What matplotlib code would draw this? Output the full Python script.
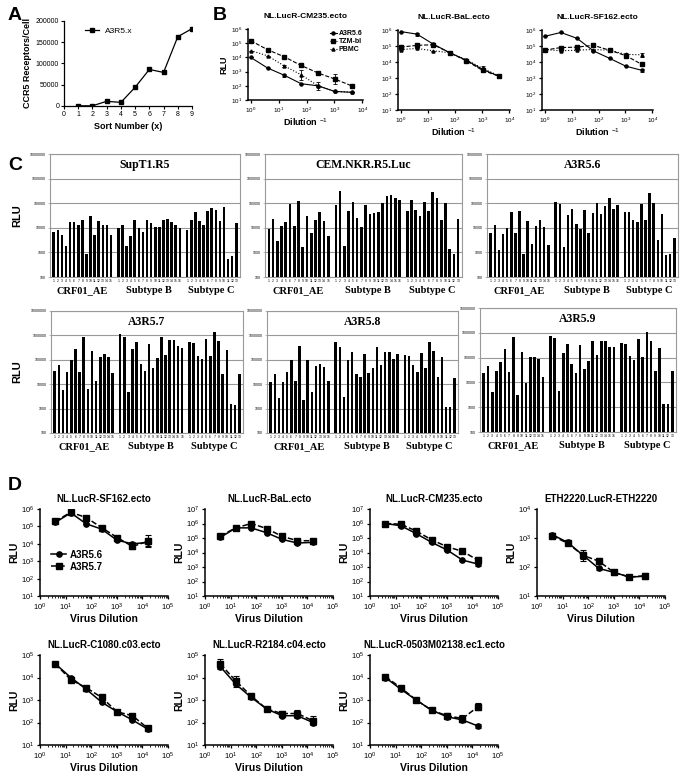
"""Multi-panel figure: CCR5 sorting, reporter virus titrations and isolate screens."""

import numpy as np
import matplotlib
matplotlib.use("Agg")
import matplotlib.pyplot as plt
import matplotlib.transforms as mtransforms
from matplotlib.ticker import LogLocator, NullFormatter, FixedLocator, FuncFormatter

W, H = 683, 780

# ---------------- data ----------------
# A: CCR5 receptors per cell by sort number
sort_num = [1, 2, 3, 4, 5, 6, 7, 8, 9]
ccr5_cell = [500, 500, 11000, 8500, 44000, 86000, 79000, 163000, 182000]

# B: titration on three cell types (RLU), errors as log10 half-widths
b_dil = [1, 4, 16, 64, 256, 1024, 4096]
b_names = ["A3R5.6", "TZM-bl", "PBMC"]
b_titles = ["NL.LucR-CM235.ecto", "NL.LucR-BaL.ecto", "NL.LucR-SF162.ecto"]
b_cm235 = [[1e4, 1.8e3, 5.5e2, 1.4e2, 1e2, 4e1, 3.5e1],
           [1.5e5, 3.5e4, 1.1e4, 2.7e3, 8e2, 3e2, 1e2],
           [3e4, 1.3e4, 2.5e3, 6e2, 1e2, 4e1, 3.5e1]]
b_cm235_err = [[0, 0, 0.1, 0, 0, 0, 0],
               [0, 0, 0, 0, 0.05, 0.35, 0],
               [0, 0, 0.1, 0.35, 0.3, 0, 0]]
b_bal = [[8e5, 5.5e5, 1.3e5, 3.8e4, 1.3e4, 3.5e3, 1.3e3],
         [8.5e4, 1.1e5, 1.2e5, 3.8e4, 1.2e4, 3e3, 1.3e3],
         [6e4, 7e4, 5e4, 3.8e4, 1.4e4, 4e3, 1.4e3]]
b_bal_err = [[0, 0.1, 0.05, 0, 0.05, 0.2, 0.12],
             [0, 0, 0, 0, 0, 0, 0],
             [0, 0, 0, 0, 0, 0, 0]]
b_sf162 = [[4e5, 7e5, 3e5, 5e4, 1.7e4, 5.5e3, 3e3],
           [5.5e4, 8e4, 8.5e4, 1.1e5, 5.5e4, 2.5e4, 7e3],
           [6e4, 5e4, 5.5e4, 6e4, 5.5e4, 3e4, 2.8e4]]
b_sf162_err = [[0, 0, 0, 0, 0, 0, 0.08],
               [0, 0, 0, 0, 0, 0.05, 0],
               [0, 0, 0, 0, 0, 0.07, 0.12]]

# C: isolate panels (RLU), per subtype group
c_groups = ["CRF01_AE", "Subtype B", "Subtype C"]
c_supt1 = [[6500, 8000, 5000, 1800, 17000, 18000, 13000, 20000, 900, 30000, 5300, 19000, 13000, 13000, 5000],
           [9500, 13000, 1800, 4500, 20000, 9500, 6500, 20000, 16000, 11000, 10500, 20000, 23000, 18000, 13000, 10000],
           [8000, 20000, 43000, 19000, 13000, 47000, 65000, 53000, 19000, 70000, 530, 720, 16000]]
c_cem = [[9000, 22000, 3000, 12000, 17000, 97000, 12000, 120000, 1600, 31000, 6000, 21000, 43000, 19000, 4800],
         [85000, 320000, 1800, 46000, 115000, 25000, 11000, 88000, 38000, 40000, 43000, 100000, 200000, 210000, 165000, 135000],
         [47000, 130000, 55000, 30000, 110000, 48000, 280000, 160000, 20000, 105000, 1350, 900, 22000]]
c_a3r56 = [[6200, 13500, 1300, 5800, 9500, 45000, 6200, 46000, 850, 19000, 2200, 11500, 21000, 11000, 2000],
           [110000, 90000, 1700, 33000, 60000, 14500, 9000, 52000, 6200, 39000, 100000, 38000, 80000, 160000, 60000, 88000],
           [43000, 43000, 20000, 18000, 90000, 20000, 250000, 100000, 3200, 35000, 750, 850, 3700]]
c_a3r57 = [[34000, 63000, 5700, 33000, 95000, 270000, 33000, 880000, 6500, 220000, 13000, 130000, 170000, 125000, 30000],
           [1100000, 850000, 4700, 290000, 550000, 65000, 35000, 430000, 44000, 120000, 900000, 160000, 620000, 670000, 370000, 310000],
           [550000, 470000, 145000, 105000, 740000, 140000, 1400000, 610000, 25000, 260000, 1500, 1400, 25000]]
c_a3r58 = [[12000, 25000, 2800, 12000, 32000, 100000, 13000, 380000, 2200, 95000, 5000, 55000, 65000, 49000, 14000],
           [530000, 350000, 3100, 100000, 200000, 27000, 19000, 165000, 29000, 46000, 350000, 61000, 210000, 200000, 110000, 175000],
           [155000, 140000, 60000, 33000, 185000, 44000, 530000, 220000, 19000, 130000, 1150, 1200, 18000]]
c_a3r59 = [[25000, 46000, 4000, 28000, 65000, 230000, 26000, 700000, 3100, 175000, 9500, 105000, 110000, 85000, 16000],
           [730000, 620000, 4300, 150000, 360000, 54000, 24000, 330000, 35000, 70000, 450000, 130000, 450000, 450000, 280000, 270000],
           [400000, 340000, 120000, 80000, 550000, 105000, 1100000, 450000, 28000, 240000, 1400, 1400, 30000]]

# D: A3R5.6 vs A3R5.7 titrations
d_dil = [4, 16, 64, 256, 1024, 4096, 16384]
d_names = ["A3R5.6", "A3R5.7"]
d_titles = ["NL.LucR-SF162.ecto", "NL.LucR-BaL.ecto", "NL.LucR-CM235.ecto", "ETH2220.LucR-ETH2220",
            "NL.LucR-C1080.c03.ecto", "NL.LucR-R2184.c04.ecto", "NL.LucR-0503M02138.ec1.ecto"]
d_sf162 = [[1.7e5, 6e5, 1.4e5, 7e4, 1.6e4, 1e4, 1.2e4], [2e5, 6.5e5, 3.2e5, 8.5e4, 2.3e4, 7e3, 1.4e4]]
d_bal = [[1.1e5, 5e5, 5e5, 2.3e5, 8e4, 4.5e4, 5e4], [1.4e5, 5e5, 1e6, 4.5e5, 1.3e5, 6.5e4, 6.5e4]]
d_cm235 = [[1e6, 7e5, 2e5, 5e4, 1.5e4, 3e3, 1.6e3], [1e6, 9e5, 3e5, 7.5e4, 2.5e4, 1.2e4, 3e3]]
d_eth = [[1.3e3, 7e2, 2.5e2, 9e1, 6.5e1, 4.5e1, 4.8e1], [1.2e3, 6.5e2, 2.5e2, 1.6e2, 6.5e1, 4.5e1, 5e1]]
d_c1080 = [[4e4, 1e4, 3e3, 8e2, 3e2, 1.3e2, 5e1], [4e4, 8e3, 3.5e3, 1.3e3, 3e2, 2e2, 5.5e1]]
d_r2184 = [[3e4, 5e3, 1.3e3, 4e2, 2e2, 2e2, 1e2], [4e4, 7e3, 1.5e3, 4e2, 2.5e2, 2.5e2, 1.2e2]]
d_0503 = [[1e4, 3e3, 1e3, 3.5e2, 1.8e2, 1.3e2, 7e1], [1.1e4, 3.5e3, 1e3, 3.5e2, 2e2, 1.5e2, 5e2]]
d_err = [[0.08, 0.05, 0.05, 0.05, 0.1, 0.15, 0.35],
         [0.08, 0.05, 0.1, 0.1, 0.1, 0.1, 0.1],
         [0.05, 0.15, 0.1, 0.12, 0.15, 0.05, 0.2],
         [0.08, 0.05, 0.2, 0.1, 0.1, 0.03, 0.1],
         [0.05, 0.05, 0.05, 0.05, 0.08, 0.08, 0.1],
         [0.2, 0.2, 0.1, 0.05, 0.1, 0.15, 0.2],
         [0.05, 0.08, 0.05, 0.05, 0.1, 0.15, 0.15]]
d_ylims = [(1e1, 1e6), (1e1, 1e7), (1e1, 1e7), (1e1, 1e4), (1e1, 1e5), (1e1, 1e5), (1e1, 1e5)]

# ---------------- style ----------------
plt.rcParams.update({
    "font.family": ["Liberation Sans", "DejaVu Sans"],
    "mathtext.fontset": "custom",
    "mathtext.rm": "Liberation Sans",
    "mathtext.bf": "Liberation Sans:bold",
    "axes.linewidth": 1.1,
    "xtick.direction": "out",
    "ytick.direction": "out",
})
SERIF = ["Liberation Serif", "DejaVu Serif"]


def box(l, t, r, b):
    return [l / W, 1 - b / H, (r - l) / W, (b - t) / H]


def prism_axes(ax, xlim, ylim, tick_fs, minor_x=False):
    ax.set_xscale("log")
    ax.set_yscale("log")
    ax.set_xlim(*xlim)
    ax.set_ylim(*ylim)
    for s in ("top", "right"):
        ax.spines[s].set_visible(False)
    ax.xaxis.set_major_locator(LogLocator(base=10, numticks=12))
    ax.yaxis.set_major_locator(LogLocator(base=10, numticks=12))
    ax.yaxis.set_minor_locator(FixedLocator([]))
    if minor_x:
        ax.xaxis.set_minor_locator(LogLocator(base=10, subs=np.arange(2, 10), numticks=12))
        ax.xaxis.set_minor_formatter(NullFormatter())
        ax.tick_params(axis="x", which="minor", length=1.5, width=0.6)
    else:
        ax.xaxis.set_minor_locator(FixedLocator([]))
    ax.tick_params(which="major", length=2.5, width=0.9, labelsize=tick_fs, pad=1.5)


def log_err(vals, errs):
    v = np.array(vals, dtype=float)
    e = np.array(errs, dtype=float)
    return [v - v / 10 ** e, v * 10 ** e - v]


fig = plt.figure(figsize=(W / 100, H / 100), dpi=100)
fig.patch.set_facecolor("white")

# panel letters
for letter, (px, py) in zip("ABCD", [(8, 20), (213, 20), (8, 170), (8, 490)]):
    fig.text(px / W, 1 - py / H, letter, fontsize=14, fontweight="bold")

# ---------------- A ----------------
ax = fig.add_axes(box(64, 21, 192, 106))
ax.plot(sort_num, ccr5_cell, color="black", marker="s", ms=2.8, lw=0.9, label="A3R5.x")
ax.set_xlim(0, 9)
ax.set_ylim(0, 200000)
ax.set_xticks(range(10))
ax.set_yticks([0, 50000, 100000, 150000, 200000])
for s in ("top", "right"):
    ax.spines[s].set_visible(False)
ax.spines["left"].set_linewidth(0.9)
ax.spines["bottom"].set_linewidth(0.9)
ax.tick_params(length=2, width=0.8, labelsize=5, pad=1.5)
ax.set_xlabel("Sort Number (x)", fontsize=6.5, fontweight="bold", labelpad=3)
ax.set_ylabel("CCR5 Receptors/Cell", fontsize=6.5, fontweight="bold", labelpad=3)
ax.legend(loc="upper left", frameon=False, fontsize=6, handlelength=1.6, borderaxespad=0.3,
          bbox_to_anchor=(0.12, 1.0))

# ---------------- B ----------------
b_boxes = [(248, 29, 363, 100), (398, 30, 510, 110), (542, 30, 653, 110)]
b_sets = [(b_cm235, b_cm235_err), (b_bal, b_bal_err), (b_sf162, b_sf162_err)]
b_styles = [("-", "o"), ("--", "s"), (":", "^")]
for i, (bb, (vals, errs), title) in enumerate(zip(b_boxes, b_sets, b_titles)):
    ax = fig.add_axes(box(*bb))
    prism_axes(ax, (0.8, 1.05e4), (1e1, 1e6), 4.5)
    for name, v, e, (ls, mk) in zip(b_names, vals, errs, b_styles):
        ax.errorbar(b_dil, v, yerr=log_err(v, e), fmt="none", ecolor="black",
                    elinewidth=0.6, capsize=1.5, capthick=0.6)
        ax.plot(b_dil, v, color="black", ls=ls, marker=mk, ms=2.2, lw=0.8, label=name)
    ax.set_title(title, fontsize=6, fontweight="bold", pad=8)
    ax.set_xlabel("Dilution $^{-1}$", fontsize=6.5, fontweight="bold", labelpad=1)
    if i == 0:
        ax.set_ylabel("RLU", fontsize=6.5, fontweight="bold", labelpad=2)
        ax.legend(loc="upper right", frameon=False, handlelength=1.0,
                  handletextpad=0.3, labelspacing=0.15, borderaxespad=0.0,
                  bbox_to_anchor=(1.02, 1.02), prop={"weight": "bold", "size": 5})

# ---------------- C ----------------
c_boxes = [(50, 154, 240, 277), (265, 154, 462, 277), (487, 154, 678, 277),
           (51, 311, 243, 433), (267, 311, 458, 433), (480, 308, 676, 432)]
c_sets = [c_supt1, c_cem, c_a3r56, c_a3r57, c_a3r58, c_a3r59]
c_titles = ["SupT1.R5", "CEM.NKR.R5.Luc", "A3R5.6", "A3R5.7", "A3R5.8", "A3R5.9"]
for i, (bb, groups, title) in enumerate(zip(c_boxes, c_sets, c_titles)):
    ax = fig.add_axes(box(*bb))
    ax.set_yscale("log")
    trans = mtransforms.blended_transform_factory(ax.transData, ax.transAxes)
    pos = 0.0
    tick_x, tick_lab = [], []
    for gname, vals in zip(c_groups, groups):
        xs = pos + np.arange(len(vals))
        ax.bar(xs, vals, width=0.62, color="black", zorder=3)
        tick_x.extend(xs)
        tick_lab.extend(str(k + 1) for k in range(len(vals)))
        ax.text(xs.mean(), -0.11, gname, transform=trans, ha="center", va="center",
                fontsize=7.5, fontweight="bold", family=SERIF)
        pos = xs[-1] + 1.8
    ax.set_xlim(-0.9, pos - 1.8 + 0.9)
    ax.set_ylim(1e2, 1e7)
    ax.set_xticks(tick_x)
    ax.set_xticklabels(tick_lab, fontsize=2.4)
    ax.yaxis.set_major_locator(FixedLocator([1e2, 1e3, 1e4, 1e5, 1e6, 1e7]))
    ax.yaxis.set_minor_locator(FixedLocator([]))
    ax.yaxis.set_major_formatter(FuncFormatter(lambda v, p: f"{int(round(v))}"))
    ax.tick_params(axis="y", labelsize=2.6, length=1.5, width=0.4, color="#888888", pad=1.5)
    ax.tick_params(axis="x", length=0, pad=1.5)
    ax.grid(axis="y", color="#999999", lw=0.8, zorder=0)
    for s in ax.spines.values():
        s.set_edgecolor("#999999")
        s.set_linewidth(0.8)
    ax.text(0.5, 0.91, title, transform=ax.transAxes, ha="center", va="center",
            fontsize=8.5, fontweight="bold", family=SERIF)
    if i in (0, 3):
        fig.text(17 / W, 1 - (bb[1] + bb[3]) / 2 / H, "RLU", rotation=90, ha="center",
                 va="center", fontsize=8, fontweight="bold")

# ---------------- D ----------------
d_boxes = [(40, 509, 168, 596), (205, 509, 333, 596), (370, 509, 498, 596), (537, 509, 665, 596),
           (40, 655, 168, 745), (205, 655, 333, 745), (370, 655, 498, 745)]
d_sets = [d_sf162, d_bal, d_cm235, d_eth, d_c1080, d_r2184, d_0503]
d_styles = [("-", "o"), ("--", "s")]
for i, (bb, vals, title, yl, err) in enumerate(zip(d_boxes, d_sets, d_titles, d_ylims, d_err)):
    ax = fig.add_axes(box(*bb))
    prism_axes(ax, (1, 1e5), yl, 5.5, minor_x=True)
    for k, (name, v, (ls, mk)) in enumerate(zip(d_names, vals, d_styles)):
        e = err if k == 1 else [x * 0.6 for x in err]
        ax.errorbar(d_dil, v, yerr=log_err(v, e), fmt="none", ecolor="black",
                    elinewidth=0.8, capsize=2, capthick=0.8)
        ax.plot(d_dil, v, color="black", ls=ls, marker=mk, ms=3.8, lw=1.1, label=name)
    ax.set_title(title, fontsize=7, fontweight="bold", pad=5)
    ax.set_xlabel("Virus Dilution", fontsize=7.5, fontweight="bold", labelpad=1)
    ax.set_ylabel("RLU", fontsize=7.5, fontweight="bold", labelpad=1)
    if i == 0:
        ax.legend(loc="lower left", frameon=False, handlelength=1.5, handletextpad=0.4,
                  labelspacing=0.2, bbox_to_anchor=(0.02, 0.18),
                  prop={"weight": "bold", "size": 7})

fig.savefig("out.png", dpi=100, facecolor="white")
